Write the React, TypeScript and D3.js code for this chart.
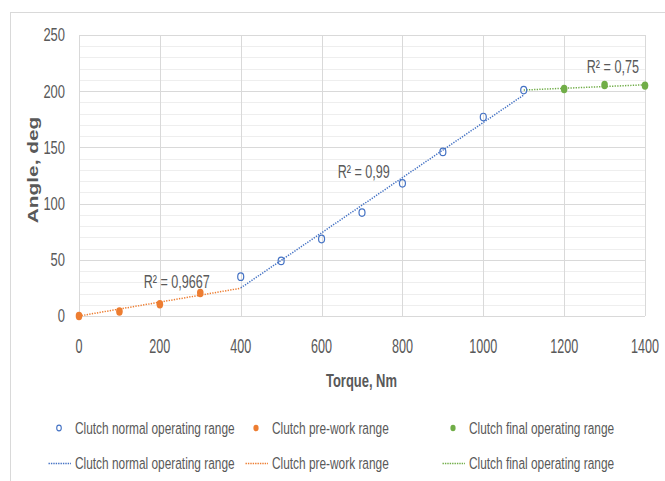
import React from 'react'
import { scaleLinear, range } from 'd3'

// clutch test data
const torqueNormal = [400, 500, 600, 700, 800, 900, 1000, 1100]
const angleNormal = [35, 49, 68.5, 92, 118, 146, 177, 201]
const torquePre = [0, 100, 200, 300]
const anglePre = [0, 4, 10.5, 20.5]
const torqueFinal = [1200, 1300, 1400]
const angleFinal = [202, 205.5, 205]

const xTicks = [0, 200, 400, 600, 800, 1000, 1200, 1400]
const yTicks = [0, 50, 100, 150, 200, 250]

const seriesNames = [
  'Clutch normal operating range',
  'Clutch pre-work range',
  'Clutch final operating range',
]
const r2Labels = ['R\u00b2 = 0,9667', 'R\u00b2 = 0,99', 'R\u00b2 = 0,75']

const BLUE = '#4472C4'
const ORANGE = '#ED7D31'
const GREEN = '#70AD47'
const TEXT = '#595959'
const FONT = '"Liberation Sans", Arial, sans-serif'

// least squares fit, optionally forced through zero
function fit(xs: number[], ys: number[], zero = false) {
  if (zero) {
    let sxy = 0, sxx = 0
    xs.forEach((x, i) => { sxy += x * ys[i]; sxx += x * x })
    const b = sxy / sxx
    return (x: number) => b * x
  }
  const n = xs.length
  const mx = xs.reduce((a, b) => a + b, 0) / n
  const my = ys.reduce((a, b) => a + b, 0) / n
  let sxy = 0, sxx = 0
  xs.forEach((x, i) => { sxy += (x - mx) * (ys[i] - my); sxx += (x - mx) * (x - mx) })
  const b = sxy / sxx
  return (x: number) => my + b * (x - mx)
}

function Txt({ x, y, size, sx = 0.72, anchor = 'start', weight = 'normal', rotate = false, children }: any) {
  const t = rotate
    ? `translate(${x},${y}) rotate(-90) scale(${1 / sx},1)`
    : `translate(${x},${y}) scale(${sx},1)`
  return (
    <text transform={t} fontSize={size} fontFamily={FONT} fill={TEXT}
      textAnchor={anchor} fontWeight={weight}>{children}</text>
  )
}

export default function App() {
  const width = 665
  const height = 481
  const x = scaleLinear().domain([0, 1400]).range([79, 645])
  const y = scaleLinear().domain([0, 250]).range([316, 35])

  const preFit = fit(torquePre, anglePre, true)
  const normalFit = fit(torqueNormal, angleNormal)
  const finalX = [torqueNormal[torqueNormal.length - 1], ...torqueFinal]
  const finalY = [angleNormal[angleNormal.length - 1], ...angleFinal]
  const finalFit = fit(finalX, finalY)

  const trends = [
    { f: normalFit, x0: 400, x1: 1100, color: BLUE },
    { f: preFit, x0: 0, x1: 400, color: ORANGE },
    { f: finalFit, x0: 1100, x1: 1400, color: GREEN },
  ]

  const labels = [
    { text: r2Labels[0], tx: 160, ty: 25 },
    { text: r2Labels[1], tx: 640, ty: 123 },
    { text: r2Labels[2], tx: 1256, ty: 216 },
  ]

  const legendX = [59, 256, 453]
  const colors = [BLUE, ORANGE, GREEN]

  return (
    <svg width={width} height={height} style={{ position: 'absolute', left: 0, top: 0, background: '#fff' }}>
      <rect x={10.5} y={12.5} width={700} height={500} fill="#fff" stroke="#d9d9d9" />

      {/* minor grid */}
      {range(0, 251, 10).filter(v => v % 50 !== 0).map(v => (
        <line key={'m' + v} x1={x(0)} x2={x(1400)} y1={Math.round(y(v)) + 0.5} y2={Math.round(y(v)) + 0.5}
          stroke="#eeeeee" />
      ))}
      {yTicks.map(v => (
        <line key={'gy' + v} x1={x(0)} x2={x(1400)} y1={Math.round(y(v)) + 0.5} y2={Math.round(y(v)) + 0.5}
          stroke="#d9d9d9" />
      ))}
      {xTicks.map(v => (
        <line key={'gx' + v} x1={Math.round(x(v)) + 0.5} x2={Math.round(x(v)) + 0.5} y1={y(0)} y2={y(250)}
          stroke="#d9d9d9" />
      ))}

      {/* tick labels */}
      {yTicks.map(v => (
        <Txt key={'ty' + v} x={65} y={y(v) + 6.4} size={18} anchor="end">{v}</Txt>
      ))}
      {xTicks.map(v => (
        <Txt key={'tx' + v} x={x(v)} y={353} size={20} sx={0.63} anchor="middle">{v}</Txt>
      ))}

      {/* trendlines */}
      {trends.map((t, i) => (
        <line key={'tr' + i} x1={x(t.x0)} y1={y(t.f(t.x0))} x2={x(t.x1)} y2={y(t.f(t.x1))}
          stroke={t.color} strokeWidth={1.5} strokeDasharray="1.3 1.3" />
      ))}

      {/* markers */}
      {torqueNormal.map((t, i) => (
        <ellipse key={'n' + i} cx={x(t)} cy={y(angleNormal[i])} rx={3} ry={3.8}
          fill="none" stroke={BLUE} strokeWidth={1.2} />
      ))}
      {torquePre.map((t, i) => (
        <ellipse key={'p' + i} cx={x(t)} cy={y(anglePre[i])} rx={3.3} ry={4.2} fill={ORANGE} />
      ))}
      {torqueFinal.map((t, i) => (
        <ellipse key={'f' + i} cx={x(t)} cy={y(angleFinal[i])} rx={3.3} ry={4.2} fill={GREEN} />
      ))}

      {/* R² labels */}
      {labels.map((l, i) => (
        <Txt key={'r' + i} x={x(l.tx)} y={y(l.ty)} size={17.5}>{l.text}</Txt>
      ))}

      {/* axis titles */}
      <Txt x={361.5} y={386.5} size={18} weight="bold" anchor="middle">Torque, Nm</Txt>
      <Txt x={38} y={170} size={15} weight="bold" anchor="middle" rotate>Angle, deg</Txt>

      {/* legend */}
      {seriesNames.map((name, i) => (
        <g key={'lg' + i}>
          {i === 0
            ? <ellipse cx={legendX[i]} cy={428} rx={2.3} ry={2.9} fill="none" stroke={BLUE} strokeWidth={1.1} />
            : <ellipse cx={legendX[i]} cy={428} rx={2.6} ry={3.3} fill={colors[i]} />}
          <Txt x={legendX[i] + 16} y={434} size={16.5}>{name}</Txt>
          <line x1={legendX[i] - 10.5} x2={legendX[i] + 12} y1={463.5} y2={463.5}
            stroke={colors[i]} strokeWidth={1.4} strokeDasharray="1.4 1" />
          <Txt x={legendX[i] + 16} y={469} size={16.5}>{name}</Txt>
        </g>
      ))}
    </svg>
  )
}
